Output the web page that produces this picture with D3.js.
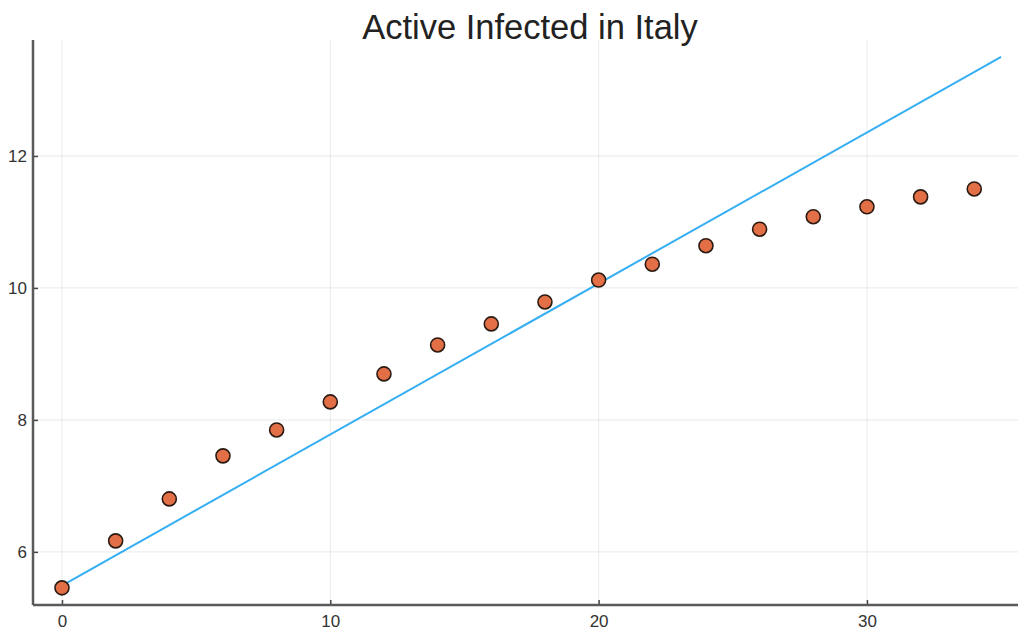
<!DOCTYPE html>
<html><head><meta charset="utf-8">
<script src="https://cdn.jsdelivr.net/npm/d3@7"></script>
<style>body{margin:0;background:#fff}svg{display:block}</style>
</head><body>
<script>
const title = "Active Infected in Italy";
const days = [0,2,4,6,8,10,12,14,16,18,20,22,24,26,28,30,32,34];
const logActive = [5.455,6.167,6.803,7.455,7.848,8.273,8.697,9.136,9.455,9.788,10.12,10.36,10.64,10.89,11.08,11.23,11.38,11.5];
const fitX = [0,35];
const fitY = [5.49,13.5];
const xTicks = [0,10,20,30];
const yTicks = [6,8,10,12];

const W=1020,H=634;
const svg=d3.select("body").append("svg").attr("width",W).attr("height",H);
const L=33,R=1018,T=50,B=605;
const x=d3.scaleLinear().domain([-1.08,35.63]).range([L,R]);
const y=d3.scaleLinear().domain([5.195,13.606]).range([B,T]);

// grid
svg.append("g").selectAll("line").data(xTicks).join("line")
 .attr("x1",d=>x(d)).attr("x2",d=>x(d)).attr("y1",T-10).attr("y2",B)
 .attr("stroke","#000").attr("stroke-opacity",0.07).attr("stroke-width",1.2);
svg.append("g").selectAll("line").data(yTicks).join("line")
 .attr("y1",d=>y(d)).attr("y2",d=>y(d)).attr("x1",L).attr("x2",R)
 .attr("stroke","#000").attr("stroke-opacity",0.07).attr("stroke-width",1.2);

// axes
const xa=svg.append("g").attr("transform",`translate(0,${B})`)
 .call(d3.axisBottom(x).tickValues(xTicks).tickSize(-5).tickPadding(10).tickFormat(d3.format("d")));
const ya=svg.append("g").attr("transform",`translate(${L},0)`)
 .call(d3.axisLeft(y).tickValues(yTicks).tickSize(-5).tickPadding(6).tickFormat(d3.format("d")));
[xa,ya].forEach(a=>{
 a.select(".domain").remove();
 a.selectAll(".tick line").attr("stroke","#444").attr("stroke-width",1.5);
 a.selectAll("text").attr("fill","#333").style("font-family","'Liberation Sans',Arial,sans-serif").style("font-size","17px");
});
svg.append("line").attr("x1",L).attr("x2",R).attr("y1",B).attr("y2",B).attr("stroke","#5a5a5a").attr("stroke-width",2.5);
svg.append("line").attr("x1",L).attr("x2",L).attr("y1",T-10).attr("y2",B).attr("stroke","#5a5a5a").attr("stroke-width",2.5);

// fit line
svg.append("path").datum(fitX.map((d,i)=>[d,fitY[i]]))
 .attr("d",d3.line().x(d=>x(d[0])).y(d=>y(d[1])))
 .attr("fill","none").attr("stroke","#35aef2").attr("stroke-width",2);

// points
svg.append("g").selectAll("circle").data(days).join("circle")
 .attr("cx",d=>x(d)).attr("cy",(d,i)=>y(logActive[i])).attr("r",7)
 .attr("fill","#e26f46").attr("stroke","#2a1a12").attr("stroke-width",1.6);

svg.append("text").attr("x",530).attr("y",39).attr("text-anchor","middle")
 .style("font-family","'Liberation Sans',Arial,sans-serif").style("font-size","34.5px").attr("fill","#222")
 .text(title);
</script>
</body></html>
